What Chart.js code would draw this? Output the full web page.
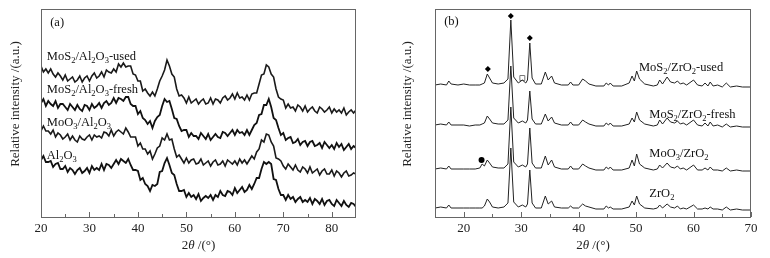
<!DOCTYPE html>
<html>
<head>
<meta charset="utf-8">
<script src="https://cdn.jsdelivr.net/npm/chart.js@4.4.1/dist/chart.umd.min.js"></script>
<style>
  html, body { margin: 0; padding: 0; background: #fff; }
  #wrap { display: flex; width: 770px; height: 258px; }
  .panel { position: relative; width: 385px; height: 258px; }
</style>
</head>
<body>
<div id="wrap">
  <div class="panel"><canvas id="chartA" width="385" height="258"></canvas></div>
  <div class="panel"><canvas id="chartB" width="385" height="258"></canvas></div>
</div>
<script>
// ---- panel (a): Al2O3 supported samples, 2theta 20-85, step 0.5 ----
const anglesA = [];
for (let a = 20; a <= 85; a += 0.5) anglesA.push(a);

const mos2Al2o3Used = [
  151,145,148,144,148,143,140,144,141,137,
  142,136,138,140,135,137,141,135,139,141,
  136,141,144,139,141,145,140,147,145,144,
  148,145,153,150,154,150,151,151,143,142,
  136,136,126,128,124,121,125,121,128,136,
  141,147,157,151,143,140,128,121,122,119,
  114,120,114,116,118,113,116,118,113,114,
  119,113,118,117,114,119,121,117,119,123,
  118,124,119,120,117,122,117,123,124,124,
  133,142,143,152,150,143,140,128,120,118,
  117,109,113,109,110,106,112,110,106,111,
  105,108,110,106,104,110,108,105,107,110,
  104,108,105,107,104,109,102,105,107,104,
  107
];
const mos2Al2o3Fresh = [
  114,118,111,116,113,111,116,109,113,113,
  110,107,113,110,107,112,108,106,112,111,
  107,113,109,111,114,109,114,116,112,114,
  119,114,119,118,116,120,120,113,111,111,
  103,106,99,97,93,96,89,96,100,102,
  111,118,115,116,108,99,98,91,86,87,
  87,80,84,81,81,78,84,81,78,83,
  77,80,83,80,79,85,84,81,84,87,
  82,87,84,85,82,87,82,87,92,94,
  102,103,112,112,118,110,99,97,89,82,
  84,77,79,80,74,75,78,72,75,76,
  71,75,76,71,72,74,69,75,72,69,
  72,68,74,70,73,67,70,73,68,71,
  69
];
const moo3Al2o3 = [
  86,91,86,86,83,87,80,84,82,78,
  80,83,77,81,77,75,81,78,77,80,
  82,77,82,80,81,79,85,84,81,87,
  81,85,87,85,83,89,85,80,80,80,
  71,74,68,68,63,66,58,63,69,71,
  79,77,83,77,78,68,60,62,58,54,
  59,54,57,58,53,54,58,52,54,56,
  51,55,57,52,53,56,51,57,55,53,
  56,52,58,54,57,53,57,61,58,65,
  68,77,75,83,82,75,71,59,58,56,
  51,48,53,50,47,52,47,45,50,48,
  44,50,44,46,48,42,46,48,43,43,
  47,41,46,44,40,44,46,41,42,44,
  43
];
const al2o3 = [
  57,61,55,55,56,50,53,54,48,48,
  51,45,49,47,43,47,49,44,46,49,
  44,51,47,49,47,53,47,53,52,49,
  53,57,53,58,56,54,58,52,47,47,
  46,37,39,33,31,26,32,31,33,45,
  46,54,59,52,44,42,33,26,26,27,
  20,24,20,22,18,23,16,19,21,19,
  22,17,22,20,26,22,21,26,25,22,
  29,24,27,30,25,27,32,28,33,39,
  39,48,55,53,55,53,38,37,28,22,
  22,17,22,18,20,15,18,20,15,17,
  15,19,13,18,16,13,18,12,16,17,
  13,11,17,14,11,16,12,10,14,13,
  10
];
const majorTicksA = [20, 30, 40, 50, 60, 70, 80];
const minorTicksA = [25, 35, 45, 55, 65, 75];

// ---- panel (b): ZrO2 supported samples ----
const anglesB = [15,16,17,17.4,17.8,19,20,21,22,22.8,
  23.2,23.6,24.1,24.5,25,26,27,27.7,28.2,28.7,
  29.5,30.2,30.8,31.1,31.5,31.9,32.5,33.5,34.2,34.7,
  35.3,35.8,37,38.2,38.6,39,40,40.7,41.2,41.8,
  43,44.4,44.8,45.2,45.5,46,47.5,48.8,49.3,49.7,
  50.1,50.6,51.5,53,53.7,54.1,54.6,55.4,56,56.7,
  57.2,57.7,58.2,58.8,60,60.7,61.5,62,62.5,62.9,
  63.4,64.2,65,65.7,66.4,67.5,68.5,70];

const mos2Zro2Used = [132,133,132,136,133,132,133,132,132,132,
  133,134,143,139,134,133,134,138,197,140,
  134,137,134,137,174,139,133,133,145,137,
  141,134,132,132,135,132,132,138,136,133,
  131,131,134,132,134,131,131,134,141,136,
  146,138,133,131,132,137,133,140,135,134,
  136,133,134,132,137,132,131,134,131,135,
  131,132,130,134,130,131,130,130];
const mos2Zro2Fresh = [92,93,92,95,92,92,92,91,92,92,
  93,94,101,98,94,93,93,97,151,99,
  94,96,94,97,126,98,93,93,103,96,
  100,94,92,92,95,92,92,97,95,93,
  91,91,94,92,94,91,91,93,99,95,
  105,97,93,91,92,97,93,99,95,94,
  96,93,94,92,97,92,91,94,91,95,
  91,92,90,93,90,91,90,90];
const moo3Zro2 = [48,49,48,51,48,48,48,48,48,49,
  53,51,57,54,50,49,49,53,110,55,
  50,52,50,53,89,54,49,49,61,52,
  57,50,48,48,51,48,48,53,51,49,
  47,47,50,48,50,47,47,49,57,51,
  63,53,49,47,48,52,49,54,50,49,
  51,48,49,47,52,47,47,49,47,50,
  47,47,46,49,46,47,46,46];
const zro2 = [9,10,9,12,9,9,9,9,9,9,
  9,11,18,15,10,9,10,14,69,15,
  10,12,10,13,47,14,9,9,21,13,
  16,10,9,9,11,9,9,13,11,10,
  8,8,11,9,10,8,8,10,16,12,
  21,13,9,8,9,12,9,13,10,9,
  11,8,9,8,12,8,8,9,8,10,
  8,8,7,10,7,8,7,7];

// phase markers: diamonds, open square, filled circle (MoO3)
const diamondAngles = [24.2, 28.2, 31.5];
const diamondLevels = [148, 201, 179];
const squareAngles = [30.2];
const squareLevels = [139];
const circleAngles = [23.1];
const circleLevels = [57];

const majorTicksB = [20, 30, 40, 50, 60, 70];
const minorTicksB = [25, 35, 45, 55, 65];

const FONT = '"Liberation Serif", "Times New Roman", serif';

function pts(xs, ys) {
  return xs.map((x, i) => ({ x: x, y: ys[i] }));
}

// text with "_" marking a subscript character
function drawRich(ctx, text, x, y) {
  let cx = x;
  for (let i = 0; i < text.length; i++) {
    let ch = text[i], sub = false;
    if (ch === '_') { sub = true; ch = text[++i]; }
    ctx.font = (sub ? '8.5px ' : '12.5px ') + FONT;
    ctx.fillText(ch, cx, sub ? y + 4 : y);
    cx += ctx.measureText(ch).width;
  }
}

const decoPlugin = {
  id: 'deco',
  afterDatasetsDraw(chart, args, opts) {
    const ctx = chart.ctx, area = chart.chartArea;
    const xs = chart.scales.x, ys = chart.scales.y;
    ctx.save();
    ctx.strokeStyle = '#666';
    ctx.lineWidth = 1;
    ctx.strokeRect(area.left + 0.5, area.top + 0.5, area.right - area.left - 1, area.bottom - area.top);
    // inward ticks
    const tick = (v, len) => {
      const px = Math.round(xs.getPixelForValue(v)) + 0.5;
      ctx.beginPath();
      ctx.moveTo(px, area.bottom);
      ctx.lineTo(px, area.bottom - len);
      ctx.stroke();
    };
    opts.major.forEach(v => tick(v, 5));
    opts.minor.forEach(v => tick(v, 3));

    ctx.fillStyle = '#111';
    ctx.textBaseline = 'middle';
    ctx.textAlign = 'left';
    opts.labels.forEach(l => drawRich(ctx, l.text, xs.getPixelForValue(l.at), ys.getPixelForValue(l.level)));

    // y title
    ctx.save();
    ctx.translate(opts.yTitleX, 104);
    ctx.rotate(-Math.PI / 2);
    ctx.textAlign = 'center';
    ctx.font = '13px ' + FONT;
    ctx.fillStyle = '#222';
    ctx.fillText('Relative intensity /(a.u.)', 0, 0);
    ctx.restore();

    // x title: 2θ /(°)
    const parts = [['2', ''], ['θ', 'italic '], [' /(°)', '']];
    let w = 0;
    parts.forEach(p => { ctx.font = p[1] + '13px ' + FONT; w += ctx.measureText(p[0]).width; });
    let cx = (area.left + area.right) / 2 - w / 2;
    ctx.fillStyle = '#222';
    parts.forEach(p => {
      ctx.font = p[1] + '13px ' + FONT;
      ctx.fillText(p[0], cx, 246);
      cx += ctx.measureText(p[0]).width;
    });
    ctx.restore();
  }
};

function lineSet(data, color, width) {
  return {
    data: data, borderColor: color, borderWidth: width,
    pointRadius: 0, tension: 0, fill: false
  };
}

function makeOptions(xmin, xmax, ticks, pad, deco) {
  return {
    responsive: false,
    animation: false,
    devicePixelRatio: 1,
    layout: { padding: pad },
    scales: {
      x: {
        type: 'linear', min: xmin, max: xmax,
        grid: { display: false, drawTicks: false },
        border: { display: false },
        afterBuildTicks: s => { s.ticks = ticks.map(v => ({ value: v })); },
        afterFit: s => { s.height = 41; },
        ticks: { autoSkip: false, maxRotation: 0, padding: 4, color: '#222', font: { family: FONT, size: 13 } }
      },
      y: { display: false, min: 0, max: 208 }
    },
    plugins: { legend: { display: false }, tooltip: { enabled: false }, deco: deco }
  };
}

new Chart(document.getElementById('chartA'), {
  type: 'line',
  data: {
    datasets: [
      lineSet(pts(anglesA, mos2Al2o3Used), '#1a1a1a', 1.6),
      lineSet(pts(anglesA, mos2Al2o3Fresh), '#111', 1.8),
      lineSet(pts(anglesA, moo3Al2o3), '#1a1a1a', 1.6),
      lineSet(pts(anglesA, al2o3), '#111', 1.8)
    ]
  },
  options: makeOptions(20, 85, majorTicksA, { left: 41, right: 29, top: 9, bottom: 0 }, {
    major: majorTicksA, minor: minorTicksA, yTitleX: 16,
    labels: [
      { text: '(a)', at: 21.9, level: 194 },
      { text: 'MoS_2/Al_2O_3-used', at: 21.2, level: 160 },
      { text: 'MoS_2/Al_2O_3-fresh', at: 21.2, level: 127 },
      { text: 'MoO_3/Al_2O_3', at: 21.2, level: 94 },
      { text: 'Al_2O_3', at: 21.2, level: 61 }
    ]
  }),
  plugins: [decoPlugin]
});

new Chart(document.getElementById('chartB'), {
  type: 'line',
  data: {
    datasets: [
      lineSet(pts(anglesB, mos2Zro2Used), '#222', 1),
      lineSet(pts(anglesB, mos2Zro2Fresh), '#222', 1),
      lineSet(pts(anglesB, moo3Zro2), '#222', 1),
      lineSet(pts(anglesB, zro2), '#222', 1),
      { type: 'scatter', data: pts(diamondAngles, diamondLevels), pointStyle: 'rectRot', pointRadius: 3,
        backgroundColor: '#000', borderColor: '#000', borderWidth: 0 },
      { type: 'scatter', data: pts(squareAngles, squareLevels), pointStyle: 'rect', pointRadius: 3.5,
        backgroundColor: '#fff', borderColor: '#777', borderWidth: 1 },
      { type: 'scatter', data: pts(circleAngles, circleLevels), pointStyle: 'circle', pointRadius: 3,
        backgroundColor: '#000', borderColor: '#000', borderWidth: 0 }
    ]
  },
  options: makeOptions(15, 70, majorTicksB, { left: 50, right: 19, top: 9, bottom: 0 }, {
    major: majorTicksB, minor: minorTicksB, yTitleX: 23,
    labels: [
      { text: '(b)', at: 16.6, level: 195 },
      { text: 'MoS_2/ZrO_2-used', at: 50.5, level: 149 },
      { text: 'MoS_2/ZrO_2-fresh', at: 52.3, level: 102 },
      { text: 'MoO_3/ZrO_2', at: 52.3, level: 63 },
      { text: 'ZrO_2', at: 52.3, level: 23 }
    ]
  }),
  plugins: [decoPlugin]
});
</script>
</body>
</html>
